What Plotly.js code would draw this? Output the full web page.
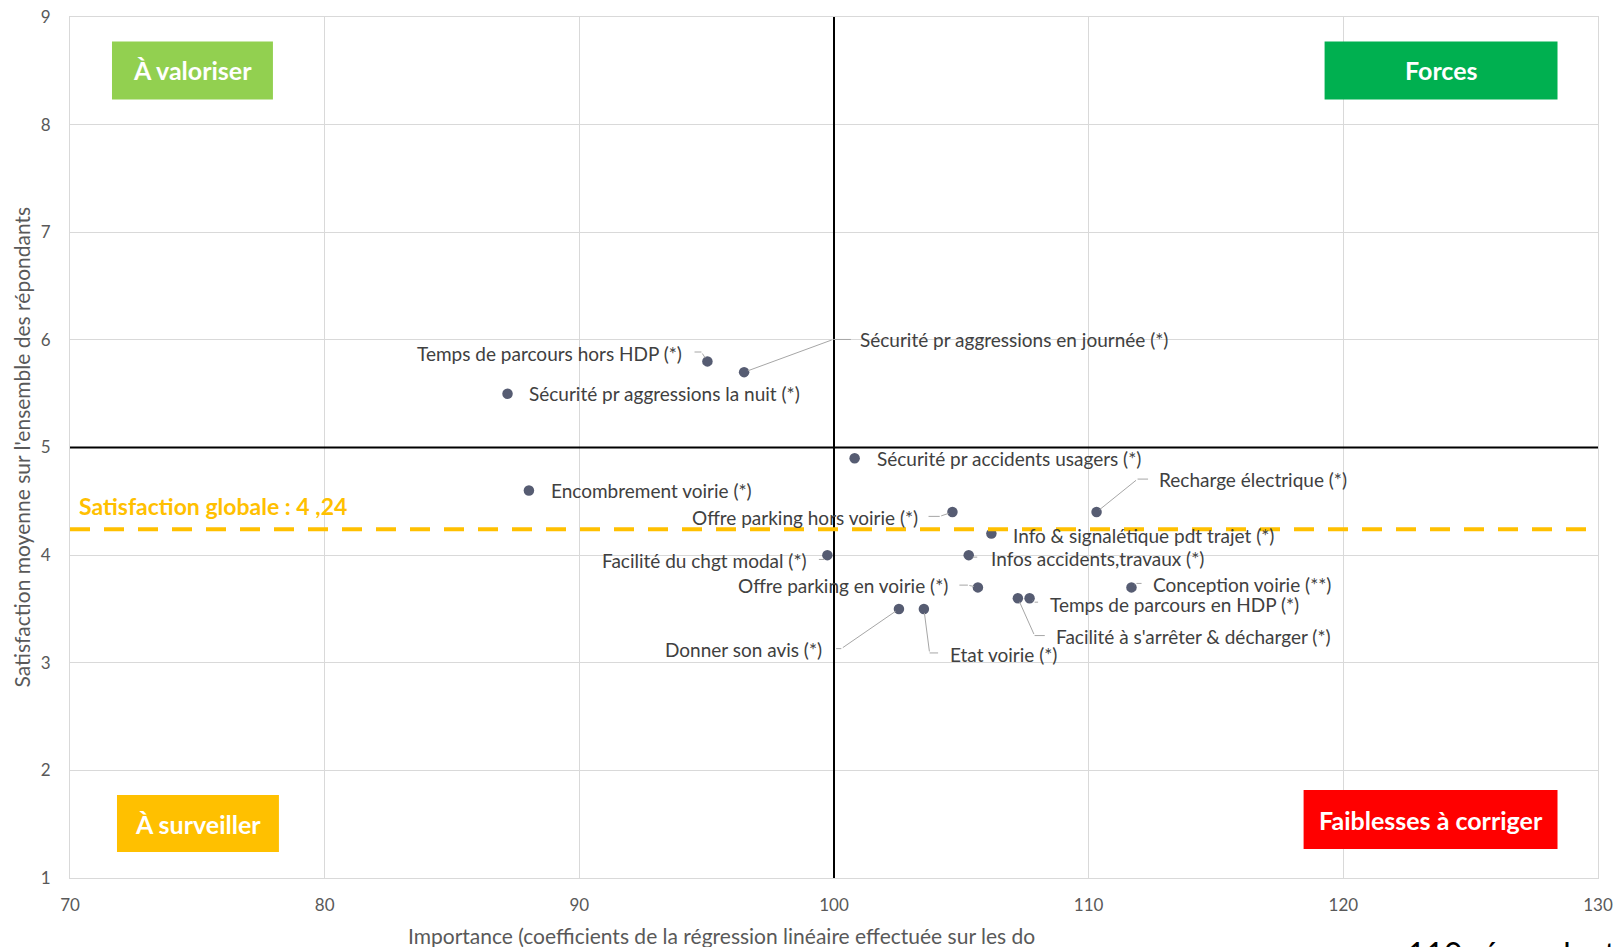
<!DOCTYPE html>
<html>
<head>
<meta charset="utf-8">
<script src="https://cdn.plot.ly/plotly-3.0.1.min.js"></script>
<style>html,body{margin:0;padding:0;background:#fff;}#chart{width:1614px;height:947px;}</style>
</head>
<body>
<div id="chart"></div>
<script>
// ---- data ----
const labels = [
  "Temps de parcours hors HDP (*)",
  "Sécurité pr aggressions en journée (*)",
  "Sécurité pr aggressions la nuit (*)",
  "Sécurité pr accidents usagers (*)",
  "Encombrement voirie (*)",
  "Recharge électrique (*)",
  "Offre parking hors voirie (*)",
  "Info & signalétique pdt trajet (*)",
  "Facilité du chgt modal (*)",
  "Infos accidents,travaux (*)",
  "Offre parking en voirie (*)",
  "Conception voirie (**)",
  "Temps de parcours en HDP (*)",
  "Facilité à s'arrêter & décharger (*)",
  "Donner son avis (*)",
  "Etat voirie (*)"
];
const importance = [95.03, 96.47, 87.18, 100.81, 88.02, 110.31, 104.65, 106.18, 99.74, 105.29, 105.65, 111.68, 107.68, 107.22, 102.55, 103.53];
const satisfaction = [5.8, 5.7, 5.5, 4.9, 4.6, 4.4, 4.4, 4.2, 4.0, 4.0, 3.7, 3.7, 3.6, 3.6, 3.5, 3.5];
const importanceThreshold = 100;
const satisfactionThreshold = 5;
const satisfactionGlobale = 4.24;
const xTicks = [70, 80, 90, 100, 110, 120, 130];
const yTicks = [1, 2, 3, 4, 5, 6, 7, 8, 9];
const quadrantNames = ["À valoriser", "Forces", "À surveiller", "Faiblesses à corriger"];
const globalLabel = "Satisfaction globale : 4 ,24";
const xTitle = "Importance (coefficients de la régression linéaire effectuée sur les do";
const yTitle = "Satisfaction moyenne sur l'ensemble des répondants";
const footText = "110 répondants";

// ---- label placement (pixel offsets from each point) ----
// [dx, dy(down), anchor, elbowDx, elbowDy, horizontalLen]  (null leader = none)
const labelPlacement = [
  [-23.7, -8.4, 'right', -6, -9.4, -8.4],
  [114, -32.7, 'left', 89.1, -32.7, 19.2],
  [19.6, 0, 'left', null],
  [20, 0, 'left', null],
  [20, 0, 'left', null],
  [60, -33, 'left', 41, -33, 12],
  [-32.7, 5.3, 'right', -12.7, 4.3, -12.7],
  [20, 1.7, 'left', null],
  [-18, 5, 'right', -3, 4.3, -7],
  [20.3, 3.3, 'left', 4, 2, 6],
  [-28.3, -1.6, 'right', -10, -2.3, -10],
  [20, -3.3, 'left', 5, -4, 6.6],
  [18.3, 6, 'left', 5, 4, 5],
  [35.7, 38, 'left', 16.7, 37.4, 11.7],
  [-75, 40.7, 'right', -57.6, 39.7, -6.7],
  [24, 45.7, 'left', 5.7, 44, 10]
];

// ---- geometry ----
const W = 1614, H = 947;
const M = {l: 70, r: 15.5, t: 16.5, b: 69};
const PW = W - M.l - M.r, PH = H - M.t - M.b;
const px = v => (v - M.l) / PW;           // page px -> paper x
const py = v => (H - M.b - v) / PH;       // page px -> paper y

const FONT = "Lato, 'Open Sans', sans-serif";
const TXT = "#404040";
const LEAD = "#A6A6A6";

const annotations = [];
const shapes = [];

labels.forEach((lab, i) => {
  const p = labelPlacement[i];
  annotations.push({
    x: importance[i], y: satisfaction[i], xref: 'x', yref: 'y',
    text: lab, showarrow: false, xanchor: p[2], yanchor: 'middle',
    xshift: p[0], yshift: -p[1],
    font: {family: FONT, size: 19, color: TXT}
  });
  if (p[3] !== null && p[3] !== undefined) {
    annotations.push({
      x: importance[i], y: satisfaction[i], xref: 'x', yref: 'y',
      text: '', showarrow: true, arrowhead: 0, arrowwidth: 1, arrowcolor: LEAD,
      ax: p[3], ay: p[4], standoff: 4, startstandoff: 0
    });
    if (p[5]) {
      annotations.push({
        x: importance[i], y: satisfaction[i], xref: 'x', yref: 'y',
        xshift: p[3], yshift: -p[4],
        text: '', showarrow: true, arrowhead: 0, arrowwidth: 1, arrowcolor: LEAD,
        ax: p[5], ay: 0, standoff: 0, startstandoff: 0
      });
    }
  }
});

// reference lines
shapes.push({type: 'line', xref: 'x', yref: 'paper', x0: importanceThreshold, x1: importanceThreshold, y0: 0, y1: 1, line: {color: '#000', width: 2}, layer: 'above'});
shapes.push({type: 'line', xref: 'paper', yref: 'y', x0: 0, x1: 1, y0: satisfactionThreshold, y1: satisfactionThreshold, line: {color: '#000', width: 2}, layer: 'above'});
shapes.push({type: 'line', xref: 'paper', yref: 'y', x0: 0, x1: 1, y0: satisfactionGlobale, y1: satisfactionGlobale, line: {color: '#FFC000', width: 4, dash: '20px,14px'}, layer: 'above'});

annotations.push({
  xref: 'paper', yref: 'y', x: px(77), y: satisfactionGlobale, xanchor: 'left', yanchor: 'middle',
  yshift: 23, text: '<b>' + globalLabel + '</b>', showarrow: false,
  font: {family: FONT, size: 23, color: '#FFC000'}
});

// quadrant boxes
const boxes = [
  {name: quadrantNames[0], x0: 112, x1: 273, y0: 41, y1: 99, color: '#92D050'},
  {name: quadrantNames[1], x0: 1325, x1: 1558, y0: 41, y1: 99, color: '#00B050'},
  {name: quadrantNames[2], x0: 117, x1: 279, y0: 795, y1: 852, color: '#FFC000'},
  {name: quadrantNames[3], x0: 1304, x1: 1558, y0: 790, y1: 849, color: '#FF0000'}
];
boxes.forEach(b => {
  shapes.push({type: 'rect', xref: 'paper', yref: 'paper', x0: px(b.x0), x1: px(b.x1), y0: py(b.y1), y1: py(b.y0),
    fillcolor: b.color, line: {width: 0}, layer: 'above'});
  annotations.push({xref: 'paper', yref: 'paper', x: px((b.x0 + b.x1) / 2), y: py((b.y0 + b.y1) / 2),
    xanchor: 'center', yanchor: 'middle', text: '<b>' + b.name + '</b>', showarrow: false,
    font: {family: FONT, size: 25, color: '#FFFFFF'}});
});

// axis titles
annotations.push({xref: 'paper', yref: 'paper', x: 0, y: 0.5, xshift: -49, xanchor: 'center', yanchor: 'middle',
  textangle: -90, text: yTitle, showarrow: false, font: {family: FONT, size: 21, color: '#595959'}});
annotations.push({xref: 'paper', yref: 'paper', x: 0, y: 0, xshift: 721 - M.l, yshift: -(935 - (H - M.b)), xanchor: 'center', yanchor: 'middle',
  text: xTitle, showarrow: false, font: {family: FONT, size: 21, color: '#595959'}});
annotations.push({xref: 'paper', yref: 'paper', x: px(1405), y: 0, yshift: -(932 - (H - M.b)), xanchor: 'left', yanchor: 'top',
  text: footText, showarrow: false, font: {family: FONT, size: 32, color: '#000000'}});

const trace = {
  type: 'scatter', mode: 'markers', x: importance, y: satisfaction, text: labels,
  marker: {size: 10.5, color: '#565C72'}, hoverinfo: 'text', cliponaxis: false
};

const layout = {
  width: W, height: H,
  margin: {l: M.l, r: M.r, t: M.t, b: M.b, pad: 0},
  paper_bgcolor: '#fff', plot_bgcolor: '#fff',
  showlegend: false,
  font: {family: FONT, color: '#595959'},
  xaxis: {range: [70, 130], tickvals: xTicks, ticktext: xTicks.map(String), showgrid: true, gridcolor: '#D9D9D9', gridwidth: 1,
    zeroline: false, showline: true, linecolor: '#D9D9D9', linewidth: 1, mirror: true, ticks: '',
    ticklabelstandoff: 12, tickfont: {family: FONT, size: 17, color: '#595959'}, fixedrange: true},
  yaxis: {range: [1, 9], tickvals: yTicks, ticktext: yTicks.map(String), showgrid: true, gridcolor: '#D9D9D9', gridwidth: 1,
    zeroline: false, showline: true, linecolor: '#D9D9D9', linewidth: 1, mirror: true, ticks: '',
    ticklabelstandoff: 15, tickfont: {family: FONT, size: 17, color: '#595959'}, fixedrange: true},
  shapes: shapes,
  annotations: annotations
};

Plotly.newPlot('chart', [trace], layout, {displayModeBar: false, staticPlot: true});
</script>
</body>
</html>
